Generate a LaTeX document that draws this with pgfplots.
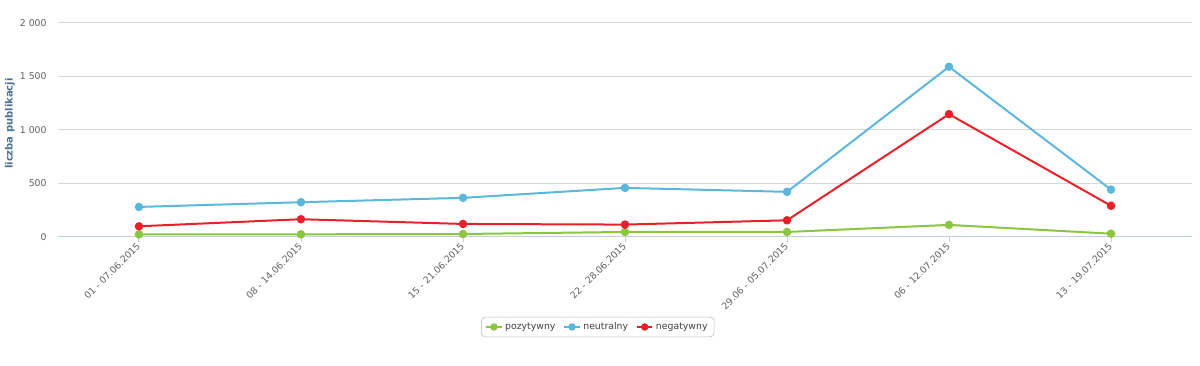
\documentclass[border=0pt]{standalone}
\usepackage{pgfplots}
\pgfplotsset{compat=1.18}
\usepackage{fontspec}
\setmainfont{DejaVu Sans}
\definecolor{cgreen}{HTML}{8CC540}
\definecolor{cblue}{HTML}{5BB7DB}
\definecolor{cred}{HTML}{E8202A}
\definecolor{ticktxt}{HTML}{606060}
\definecolor{ylab}{HTML}{4D6F96}
\definecolor{axline}{HTML}{C0D0E0}
\definecolor{gridc}{HTML}{D8D8D8}
\begin{document}
\begin{tikzpicture}
\path[use as bounding box] (-43.5pt,-96.75pt) rectangle (856.5pt,177.75pt);
\begin{axis}[
  scale only axis,
  width=850.5pt, height=160.5pt,
  xmin=-0.5, xmax=6.5, ymin=0, ymax=2000,
  xtick={0,...,6},
  xticklabels={01 - 07.06.2015, 08 - 14.06.2015, 15 - 21.06.2015, 22 - 28.06.2015, 29.06 - 05.07.2015, 06 - 12.07.2015, 13 - 19.07.2015},
  ytick={0,500,1000,1500,2000},
  /pgf/number format/assume math mode=true,
  /pgf/number format/1000 sep={\ },
  axis x line*=bottom,
  axis y line*=left,
  y axis line style={draw=none},
  x axis line style={color=axline, line width=0.75pt, -},
  ymajorgrids,
  major grid style={color=gridc, line width=0.75pt},
  tick align=outside,
  major tick length=4pt,
  xtick style={color=axline, line width=0.75pt},
  ytick style={draw=none},
  xticklabel style={font=\fontsize{7}{8}\selectfont, text=ticktxt, rotate=45, anchor=east, xshift=2pt, yshift=-1pt},
  yticklabel style={font=\fontsize{7}{8}\selectfont, text=ticktxt, anchor=east, xshift=-1pt},
  ylabel={liczba publikacji},
  every axis y label/.style={at={(axis description cs:0,0.53)}, xshift=-36pt, rotate=90, anchor=center, font=\bfseries\fontsize{7.5}{9}\selectfont, text=ylab},
  legend columns=3,
  legend style={at={(axis description cs:0.476,0)}, yshift=-67.5pt, anchor=center, draw=gray!55, rounded corners=3pt, font=\fontsize{7}{8}\selectfont, text=black!75, inner xsep=3pt, inner ysep=2pt, /tikz/every even column/.append style={column sep=4pt}},
  legend image code/.code={\draw[mark repeat=2,mark phase=2,mark size=2pt] plot coordinates {(0cm,0cm)(0.2cm,0cm)(0.4cm,0cm)};},
  every axis plot/.append style={line width=1.5pt, mark=*, mark size=2.4pt, mark options={solid}},
]
\addplot[color=cgreen] coordinates {(0,25)(1,25)(2,28)(3,47)(4,47)(5,113)(6,31)};
\addplot[color=cblue] coordinates {(0,281)(1,325)(2,366)(3,459)(4,422)(5,1591)(6,443)};
\addplot[color=cred] coordinates {(0,100)(1,166)(2,122)(3,116)(4,156)(5,1148)(6,292)};
\legend{pozytywny, neutralny, negatywny}
\end{axis}
\end{tikzpicture}
\end{document}
